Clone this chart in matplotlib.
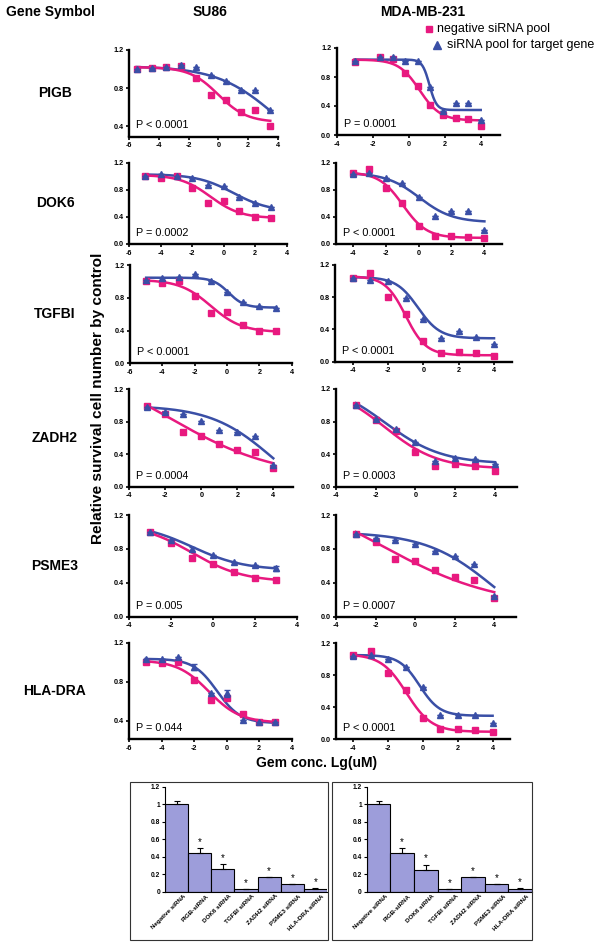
import numpy as np
import matplotlib
matplotlib.use('Agg')
import matplotlib.pyplot as plt
from matplotlib.patches import Rectangle

plt.rcParams['font.family'] = ['Liberation Sans', 'DejaVu Sans']

W, H = 600, 942
PINK = '#E8197F'
BLUE = '#3A4FA6'
BARC = '#9D9DDA'

genes = ['PIGB', 'DOK6', 'TGFBI', 'ZADH2', 'PSME3', 'HLA-DRA']
cell_lines = ['SU86', 'MDA-MB-231']
legend_labels = ['negative siRNA pool', 'siRNA pool for target gene']

# ---------------- SU86 column ----------------
pigb_su86_x = [-5.5, -4.5, -3.5, -2.5, -1.5, -0.5, 0.5, 1.5, 2.5, 3.5]
pigb_su86_neg = [1.0, 1.01, 1.02, 1.03, 0.91, 0.73, 0.67, 0.55, 0.57, 0.40]
pigb_su86_tgt = [1.0, 1.01, 1.02, 1.04, 1.025, 0.94, 0.87, 0.78, 0.78, 0.57]
pigb_su86_tgt_err = [0, 0, 0, 0, 0, 0, 0, 0, 0, 0]
pigb_su86_negfit = [1.02, 0.44, 0.0, 0.45]     # top, bottom, logEC50, hill
pigb_su86_tgtfit = [1.03, 0.0, 3.85, 0.22]
pigb_su86_p = 'P < 0.0001'

dok6_su86_x = [-5, -4, -3, -2, -1, 0, 1, 2, 3]
dok6_su86_neg = [1.01, 0.98, 1.0, 0.82, 0.61, 0.63, 0.48, 0.40, 0.39]
dok6_su86_tgt = [1.01, 1.03, 1.0, 0.98, 0.87, 0.85, 0.70, 0.61, 0.55]
dok6_su86_tgt_err = [0, 0, 0, 0, 0, 0, 0, 0, 0]
dok6_su86_negfit = [1.02, 0.38, -0.85, 0.45]
dok6_su86_tgtfit = [1.03, 0.48, 0.6, 0.38]
dok6_su86_p = 'P = 0.0002'

tgfbi_su86_x = [-5, -4, -3, -2, -1, 0, 1, 2, 3]
tgfbi_su86_neg = [1.0, 0.98, 1.0, 0.82, 0.61, 0.63, 0.47, 0.40, 0.39]
tgfbi_su86_tgt = [1.02, 1.04, 1.05, 1.09, 1.0, 0.875, 0.745, 0.70, 0.68]
tgfbi_su86_tgt_err = [0, 0, 0, 0, 0, 0, 0, 0, 0]
tgfbi_su86_negfit = [1.02, 0.38, -1.0, 0.45]
tgfbi_su86_tgtfit = [1.045, 0.68, 0.1, 0.9]
tgfbi_su86_p = 'P < 0.0001'

zadh2_su86_x = [-3, -2, -1, 0, 1, 2, 3, 4]
zadh2_su86_neg = [1.0, 0.90, 0.68, 0.62, 0.53, 0.45, 0.43, 0.23]
zadh2_su86_tgt = [0.98, 0.925, 0.90, 0.81, 0.70, 0.67, 0.63, 0.27]
zadh2_su86_tgt_err = [0, 0, 0, 0, 0, 0, 0, 0]
zadh2_su86_negfit = [1.6, 0.1, -1.79, 0.145]
zadh2_su86_tgtfit = [1.0, -0.3, 4.0, 0.25]
zadh2_su86_p = 'P = 0.0004'

psme3_su86_x = [-3, -2, -1, 0, 1, 2, 3]
psme3_su86_neg = [1.0, 0.87, 0.69, 0.62, 0.53, 0.46, 0.43]
psme3_su86_tgt = [1.0, 0.91, 0.795, 0.73, 0.64, 0.61, 0.57]
psme3_su86_tgt_err = [0, 0, 0.025, 0, 0, 0, 0.025]
psme3_su86_negfit = [1.1, 0.41, -1.0, 0.35]
psme3_su86_tgtfit = [1.1, 0.55, -1.0, 0.35]
psme3_su86_p = 'P = 0.005'

hladra_su86_x = [-5, -4, -3, -2, -1, 0, 1, 2, 3]
hladra_su86_neg = [1.0, 0.99, 1.0, 0.82, 0.61, 0.63, 0.47, 0.39, 0.39]
hladra_su86_tgt = [1.03, 1.03, 1.05, 0.955, 0.68, 0.68, 0.41, 0.39, 0.39]
hladra_su86_tgt_err = [0, 0, 0, 0.03, 0, 0.035, 0, 0, 0]
hladra_su86_negfit = [1.02, 0.38, -1.1, 0.45]
hladra_su86_tgtfit = [1.035, 0.375, -0.6, 0.6]
hladra_su86_p = 'P = 0.044'

# ---------------- MDA-MB-231 column ----------------
pigb_mda_x = [-3.0, -1.6, -0.9, -0.2, 0.5, 1.2, 1.9, 2.6, 3.3, 4.0]
pigb_mda_neg = [1.01, 1.08, 1.05, 0.85, 0.67, 0.41, 0.28, 0.24, 0.22, 0.12]
pigb_mda_tgt = [1.02, 1.08, 1.08, 1.02, 1.02, 0.66, 0.33, 0.44, 0.44, 0.21]
pigb_mda_tgt_err = [0, 0, 0, 0, 0, 0, 0, 0, 0, 0]
pigb_mda_negfit = [1.04, 0.2, 0.6, 0.75]
pigb_mda_tgtfit = [1.04, 0.345, 1.15, 2.2]
pigb_mda_p = 'P = 0.0001'

dok6_mda_x = [-4, -3, -2, -1, 0, 1, 2, 3, 4]
dok6_mda_neg = [1.05, 1.10, 0.83, 0.61, 0.265, 0.12, 0.12, 0.11, 0.085]
dok6_mda_tgt = [1.04, 1.05, 0.97, 0.895, 0.70, 0.41, 0.49, 0.49, 0.21]
dok6_mda_tgt_err = [0, 0, 0, 0, 0, 0, 0, 0, 0]
dok6_mda_negfit = [1.06, 0.09, -0.95, 0.6]
dok6_mda_tgtfit = [1.05, 0.32, 0.05, 0.43]
dok6_mda_p = 'P < 0.0001'

tgfbi_mda_x = [-4, -3, -2, -1, 0, 1, 2, 3, 4]
tgfbi_mda_neg = [1.04, 1.10, 0.80, 0.59, 0.26, 0.11, 0.115, 0.11, 0.065]
tgfbi_mda_tgt = [1.04, 1.02, 1.0, 0.79, 0.53, 0.29, 0.38, 0.31, 0.22]
tgfbi_mda_tgt_err = [0, 0, 0, 0, 0, 0, 0, 0, 0]
tgfbi_mda_negfit = [1.06, 0.08, -1.0, 0.75]
tgfbi_mda_tgtfit = [1.05, 0.29, -0.3, 0.7]
tgfbi_mda_p = 'P < 0.0001'

zadh2_mda_x = [-3, -2, -1, 0, 1, 2, 3, 4]
zadh2_mda_neg = [1.0, 0.82, 0.68, 0.43, 0.255, 0.28, 0.255, 0.19]
zadh2_mda_tgt = [1.0, 0.83, 0.71, 0.545, 0.32, 0.35, 0.34, 0.28]
zadh2_mda_tgt_err = [0, 0, 0, 0, 0, 0, 0, 0]
zadh2_mda_negfit = [1.25, 0.22, -1.56, 0.323]
zadh2_mda_tgtfit = [1.3, 0.28, -1.55, 0.3]
zadh2_mda_p = 'P = 0.0003'

psme3_mda_x = [-3, -2, -1, 0, 1, 2, 3, 4]
psme3_mda_neg = [0.98, 0.88, 0.68, 0.66, 0.55, 0.47, 0.43, 0.22]
psme3_mda_tgt = [0.98, 0.93, 0.90, 0.86, 0.78, 0.72, 0.62, 0.25]
psme3_mda_tgt_err = [0, 0, 0, 0, 0, 0, 0, 0]
psme3_mda_negfit = [1.6, 0.1, -1.79, 0.145]
psme3_mda_tgtfit = [1.0, -0.3, 4.0, 0.25]
psme3_mda_p = 'P = 0.0007'

hladra_mda_x = [-4, -3, -2, -1, 0, 1, 2, 3, 4]
hladra_mda_neg = [1.05, 1.10, 0.83, 0.61, 0.265, 0.12, 0.12, 0.11, 0.085]
hladra_mda_tgt = [1.04, 1.05, 1.0, 0.90, 0.65, 0.30, 0.30, 0.30, 0.20]
hladra_mda_tgt_err = [0, 0, 0, 0, 0, 0, 0, 0, 0]
hladra_mda_negfit = [1.06, 0.09, -0.95, 0.6]
hladra_mda_tgtfit = [1.05, 0.29, -0.2, 0.75]
hladra_mda_p = 'P < 0.0001'

# ---------------- bar charts ----------------
bar_labels = ['Negative siRNA', 'PIGB-siRNA', 'DOK6 siRNA', 'TGFBI siRNA',
              'ZADH2 siRNA', 'PSME3 siRNA', 'HLA-DRA siRNA']
bar_su86 = [1.0, 0.445, 0.255, 0.03, 0.17, 0.085, 0.035]
bar_su86_err = [0.04, 0.055, 0.06, 0.0, 0.0, 0.0, 0.005]
bar_mda = [1.0, 0.445, 0.25, 0.03, 0.17, 0.085, 0.035]
bar_mda_err = [0.04, 0.055, 0.06, 0.0, 0.0, 0.0, 0.005]
bar_star = ['', '*', '*', '*', '*', '*', '*']

# ---------------- layout (pixels) ----------------
fig = plt.figure(figsize=(W / 100, H / 100), dpi=100)


def px_axes(left, right, top, bottom):
    return fig.add_axes([left / W, 1 - bottom / H, (right - left) / W, (bottom - top) / H])


def logistic(x, p):
    top, bottom, x50, hill = p
    return bottom + (top - bottom) / (1 + 10 ** ((x - x50) * hill))


# (left px, right px, top px, bottom px, xlim, ylim, xticks, yticks)
layout_left = [
    (129.3, 277.7, 50, 136.5, (-6, 4), (0.29, 1.2), [-6, -4, -2, 0, 2, 4], [0.4, 0.8, 1.2]),
    (129.3, 286.7, 162.7, 244, (-6, 4), (0, 1.2), [-6, -4, -2, 0, 2, 4], [0.0, 0.4, 0.8, 1.2]),
    (130, 291.7, 265, 363.3, (-6, 4), (0, 1.2), [-6, -4, -2, 0, 2, 4], [0.0, 0.4, 0.8, 1.2]),
    (129.3, 293.1, 389.3, 486.7, (-4, 5.1), (0, 1.2), [-4, -2, 0, 2, 4], [0.0, 0.4, 0.8, 1.2]),
    (129.3, 296.7, 515, 616.7, (-4, 4), (0, 1.2), [-4, -2, 0, 2, 4], [0.0, 0.4, 0.8, 1.2]),
    (129.3, 291.7, 642.7, 739.3, (-6, 4), (0.21, 1.2), [-6, -4, -2, 0, 2, 4], [0.4, 0.8, 1.2]),
]
layout_right = [
    (336.7, 500, 48, 135, (-4, 5.07), (0, 1.2), [-4, -2, 0, 2, 4], [0.0, 0.4, 0.8, 1.2]),
    (336.2, 501.7, 162.7, 244, (-5, 5.05), (0, 1.2), [-4, -2, 0, 2, 4], [0.0, 0.4, 0.8, 1.2]),
    (335, 511.7, 265, 361.7, (-5, 5), (0, 1.2), [-4, -2, 0, 2, 4], [0.0, 0.4, 0.8, 1.2]),
    (336, 516.7, 389, 486.7, (-4, 5.1), (0, 1.2), [-4, -2, 0, 2, 4], [0.0, 0.4, 0.8, 1.2]),
    (336, 516, 515, 616.7, (-4, 5.1), (0, 1.2), [-4, -2, 0, 2, 4], [0.0, 0.4, 0.8, 1.2]),
    (336, 510, 643, 739, (-5, 5), (0, 1.2), [-4, -2, 0, 2, 4], [0.0, 0.4, 0.8, 1.2]),
]

su86_panels = [
    (pigb_su86_x, pigb_su86_neg, pigb_su86_tgt, pigb_su86_tgt_err, pigb_su86_negfit, pigb_su86_tgtfit, pigb_su86_p),
    (dok6_su86_x, dok6_su86_neg, dok6_su86_tgt, dok6_su86_tgt_err, dok6_su86_negfit, dok6_su86_tgtfit, dok6_su86_p),
    (tgfbi_su86_x, tgfbi_su86_neg, tgfbi_su86_tgt, tgfbi_su86_tgt_err, tgfbi_su86_negfit, tgfbi_su86_tgtfit, tgfbi_su86_p),
    (zadh2_su86_x, zadh2_su86_neg, zadh2_su86_tgt, zadh2_su86_tgt_err, zadh2_su86_negfit, zadh2_su86_tgtfit, zadh2_su86_p),
    (psme3_su86_x, psme3_su86_neg, psme3_su86_tgt, psme3_su86_tgt_err, psme3_su86_negfit, psme3_su86_tgtfit, psme3_su86_p),
    (hladra_su86_x, hladra_su86_neg, hladra_su86_tgt, hladra_su86_tgt_err, hladra_su86_negfit, hladra_su86_tgtfit, hladra_su86_p),
]
mda_panels = [
    (pigb_mda_x, pigb_mda_neg, pigb_mda_tgt, pigb_mda_tgt_err, pigb_mda_negfit, pigb_mda_tgtfit, pigb_mda_p),
    (dok6_mda_x, dok6_mda_neg, dok6_mda_tgt, dok6_mda_tgt_err, dok6_mda_negfit, dok6_mda_tgtfit, dok6_mda_p),
    (tgfbi_mda_x, tgfbi_mda_neg, tgfbi_mda_tgt, tgfbi_mda_tgt_err, tgfbi_mda_negfit, tgfbi_mda_tgtfit, tgfbi_mda_p),
    (zadh2_mda_x, zadh2_mda_neg, zadh2_mda_tgt, zadh2_mda_tgt_err, zadh2_mda_negfit, zadh2_mda_tgtfit, zadh2_mda_p),
    (psme3_mda_x, psme3_mda_neg, psme3_mda_tgt, psme3_mda_tgt_err, psme3_mda_negfit, psme3_mda_tgtfit, psme3_mda_p),
    (hladra_mda_x, hladra_mda_neg, hladra_mda_tgt, hladra_mda_tgt_err, hladra_mda_negfit, hladra_mda_tgtfit, hladra_mda_p),
]


def draw_panel(lay, data):
    left, right, top, bottom, xlim, ylim, xt, yt = lay
    x, neg, tgt, tgt_err, negfit, tgtfit, ptxt = data
    ax = px_axes(left, right, top, bottom)
    ax.set_xlim(*xlim)
    ax.set_ylim(*ylim)
    xs = np.linspace(min(x), max(x), 200)
    ax.plot(xs, logistic(xs, tgtfit), color=BLUE, lw=1.8, clip_on=False, zorder=2)
    ax.plot(xs, logistic(xs, negfit), color=PINK, lw=1.8, clip_on=False, zorder=2)
    ax.plot(x, neg, ls='none', marker='s', ms=4.2, color=PINK, mec=PINK, clip_on=False, zorder=3)
    ax.errorbar(x, tgt, yerr=tgt_err, fmt='none', ecolor=BLUE, elinewidth=1.0,
                capsize=2, capthick=1.0, zorder=4, clip_on=False)
    ax.plot(x, tgt, ls='none', marker='^', ms=4.8, color=BLUE, mec=BLUE, clip_on=False, zorder=4)
    for s in ['top', 'right']:
        ax.spines[s].set_visible(False)
    for s in ['left', 'bottom']:
        ax.spines[s].set_linewidth(1.7)
    ax.set_xticks(xt)
    ax.set_yticks(yt)
    ax.set_xticklabels([str(v) for v in xt])
    ax.set_yticklabels(['%.1f' % v for v in yt])
    ax.tick_params(direction='out', length=2.5, width=1.2, labelsize=5.2, pad=1.5)
    for lbl in ax.get_xticklabels() + ax.get_yticklabels():
        lbl.set_fontweight('bold')
    ax.patch.set_alpha(0)
    fig.text((left + 7) / W, 1 - (bottom - 11) / H, ptxt, fontsize=7.8,
             ha='left', va='center')
    return ax


for lay, d in zip(layout_left, su86_panels):
    draw_panel(lay, d)
for lay, d in zip(layout_right, mda_panels):
    draw_panel(lay, d)

# gene symbols
gene_y = [93, 203, 314, 438, 566, 691]
for g, gy in zip(genes, gene_y):
    fig.text(55 / W, 1 - gy / H, g, fontsize=10, fontweight='bold', ha='center', va='center')

# headers
fig.text(50 / W, 1 - 12 / H, 'Gene Symbol', fontsize=10, fontweight='bold', ha='center', va='center')
fig.text(210 / W, 1 - 12 / H, cell_lines[0], fontsize=10, fontweight='bold', ha='center', va='center')
fig.text(423 / W, 1 - 12 / H, cell_lines[1], fontsize=10, fontweight='bold', ha='center', va='center')

# legend
fig.lines.append(plt.Line2D([429 / W], [1 - 29 / H], marker='s', ms=5, color=PINK, ls='none',
                            transform=fig.transFigure))
fig.lines.append(plt.Line2D([437 / W], [1 - 45 / H], marker='^', ms=5.5, color=BLUE, ls='none',
                            transform=fig.transFigure))
fig.text(437 / W, 1 - 29 / H, legend_labels[0], fontsize=9, ha='left', va='center')
fig.text(447 / W, 1 - 45 / H, legend_labels[1], fontsize=9, ha='left', va='center')

# axis labels
fig.text(98 / W, 1 - 398 / H, 'Relative survival cell number by control', fontsize=11.1,
         fontweight='bold', rotation=90, ha='center', va='center')
fig.text(317 / W, 1 - 763 / H, 'Gem conc. Lg(uM)', fontsize=10, fontweight='bold',
         ha='center', va='center')


# bar charts
def draw_bars(box, axbox, vals, errs):
    bx0, bx1, by0, by1 = box
    fig.patches.append(Rectangle((bx0 / W, 1 - by1 / H), (bx1 - bx0) / W, (by1 - by0) / H,
                                 transform=fig.transFigure, fill=False, ec='#333333', lw=0.8))
    ax = px_axes(*axbox)
    n = len(vals)
    xs = np.arange(n) + 0.5
    ax.bar(xs, vals, width=1.0, color=BARC, edgecolor='black', linewidth=0.8, zorder=2)
    ax.errorbar(xs, vals, yerr=[np.zeros(n), errs], fmt='none', ecolor='black',
                elinewidth=0.8, capsize=2, capthick=0.8, zorder=3)
    for xi, v, e, s in zip(xs, vals, errs, bar_star):
        if s:
            ax.text(xi, v + e + 0.07, s, ha='center', va='center', fontsize=7)
    ax.set_xlim(0, n)
    ax.set_ylim(0, 1.2)
    for s in ['top', 'right']:
        ax.spines[s].set_visible(False)
    ax.spines['left'].set_linewidth(0.8)
    ax.spines['bottom'].set_linewidth(0.8)
    ax.set_xticks([])
    yt = [0, 0.2, 0.4, 0.6, 0.8, 1.0, 1.2]
    ax.set_yticks(yt)
    ax.set_yticklabels(['0', '0.2', '0.4', '0.6', '0.8', '1', '1.2'])
    ax.tick_params(axis='y', direction='out', length=2, width=0.8, labelsize=4.8, pad=1.5)
    for lbl in ax.get_yticklabels():
        lbl.set_fontweight('bold')
    for xi, lab in zip(xs, bar_labels):
        ax.text(xi + 0.35, -0.04, lab, rotation=45, rotation_mode='anchor', ha='right',
                va='center', fontsize=4.5, fontweight='bold')
    ax.patch.set_alpha(0)


draw_bars((130, 328, 782, 940), (165, 327, 786.7, 891.7), bar_su86, bar_su86_err)
draw_bars((332, 532, 782, 940), (366.7, 532, 786.7, 891.7), bar_mda, bar_mda_err)

fig.savefig('out.png', dpi=100)
